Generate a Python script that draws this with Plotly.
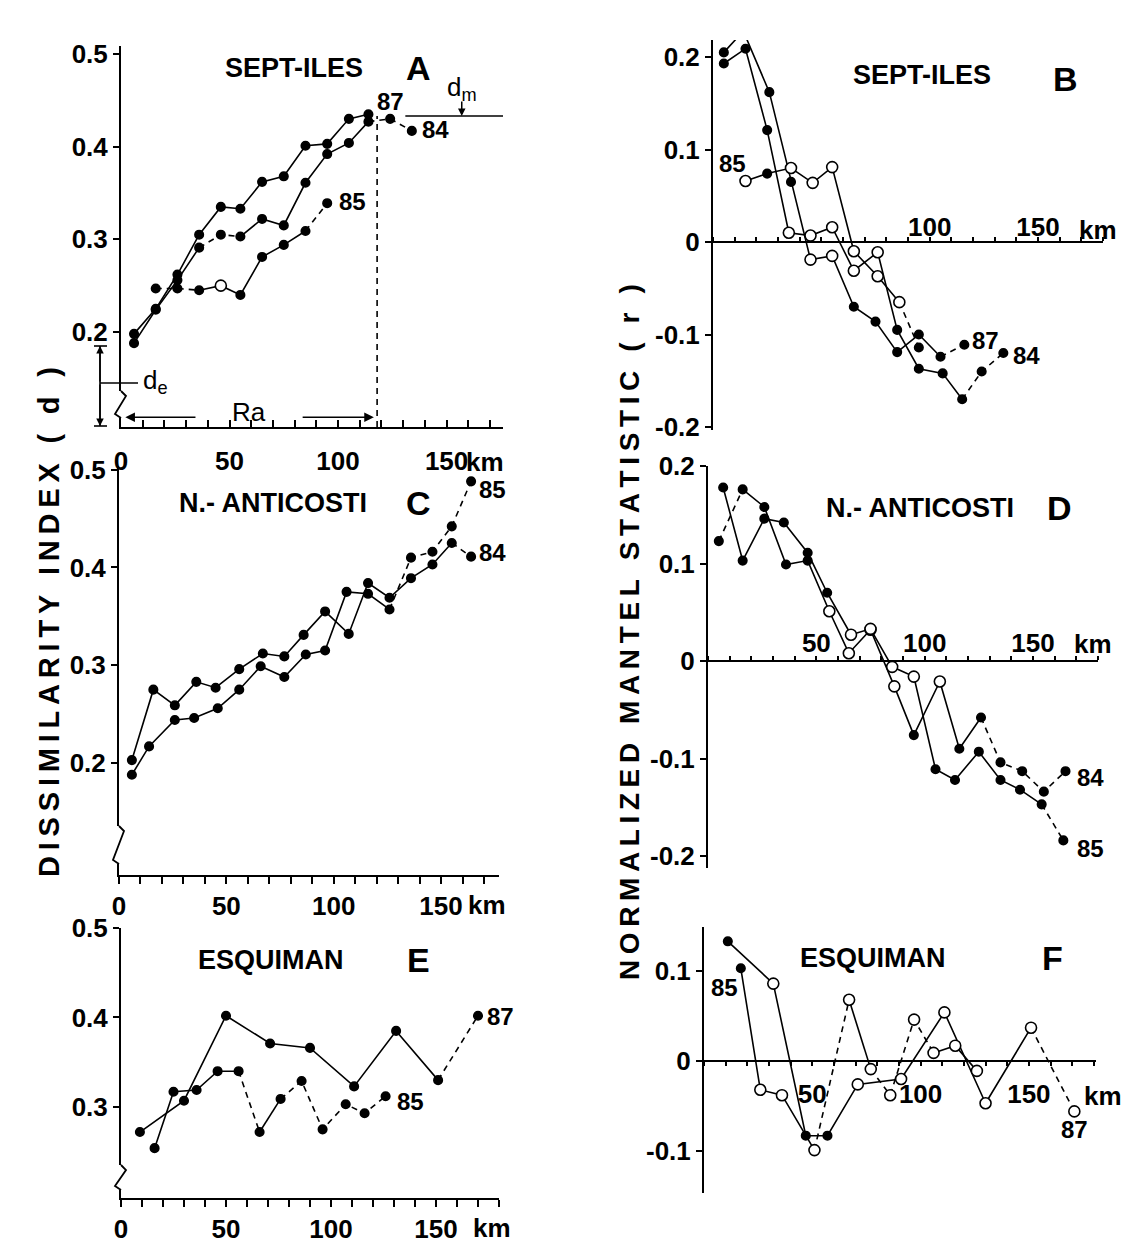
import plotly.graph_objects as go

# page body has an 8 px margin: the figure is sized to fit inside the 1131x1257 window
OFF = 8
W, H = 1131 - 2 * OFF, 1257 - 2 * OFF
FONT = "Liberation Sans, Arial, sans-serif"


def PX(px):
    return (px - OFF) / W


def PY(py):
    return 1 - (py - OFF) / H


# ---------------- DATA ----------------
# Panel A : Sept-Iles dissimilarity (km, d)
A_87_x = [6, 16, 26, 36, 46, 55, 65, 75, 85, 95, 105, 114]
A_87_y = [0.198, 0.225, 0.262, 0.305, 0.335, 0.333, 0.362, 0.368, 0.401, 0.403, 0.430, 0.435]
A_84_x = [6, 16, 26, 36, 46, 55, 65, 75, 85, 95, 105, 114, 124, 134]
A_84_y = [0.188, 0.224, 0.256, 0.291, 0.305, 0.303, 0.322, 0.315, 0.361, 0.392, 0.404, 0.427, 0.430, 0.417]
A_85_x = [16, 26, 36, 46, 55, 65, 75, 85, 95]
A_85_y = [0.247, 0.247, 0.245, 0.250, 0.240, 0.281, 0.294, 0.309, 0.339]

# Panel B : Sept-Iles Mantel r
B_87_x = [5, 14, 26, 36, 45, 55, 65, 75, 85, 95, 105, 116]
B_87_y = [0.205, 0.228, 0.162, 0.065, -0.019, -0.015, -0.070, -0.086, -0.119, -0.100, -0.124, -0.111]
B_84_x = [5, 15, 25, 35, 45, 55, 65, 76, 85, 95, 106, 115, 124, 134]
B_84_y = [0.193, 0.209, 0.121, 0.010, 0.007, 0.016, -0.031, -0.011, -0.095, -0.137, -0.142, -0.170, -0.140, -0.120]
B_85_x = [15, 25, 36, 46, 55, 65, 76, 86, 95]
B_85_y = [0.066, 0.074, 0.080, 0.064, 0.081, -0.010, -0.037, -0.065, -0.114]

# Panel C : N.-Anticosti dissimilarity
C_84_x = [6, 16, 26, 36, 45, 56, 67, 77, 86, 96, 107, 116, 126, 136, 146, 155, 164]
C_84_y = [0.203, 0.275, 0.259, 0.283, 0.277, 0.296, 0.312, 0.309, 0.331, 0.355, 0.332, 0.384, 0.369, 0.389, 0.403, 0.425, 0.411]
C_85_x = [6, 14, 26, 35, 46, 56, 66, 77, 87, 96, 106, 116, 126, 136, 146, 155, 164]
C_85_y = [0.188, 0.217, 0.244, 0.246, 0.256, 0.275, 0.299, 0.288, 0.311, 0.315, 0.375, 0.373, 0.357, 0.410, 0.416, 0.442, 0.488]

# Panel D : N.-Anticosti Mantel r
D_84_x = [5, 16, 26, 36, 46, 56, 65, 75, 86, 95, 107, 116, 126, 135, 145, 155, 165]
D_84_y = [0.123, 0.176, 0.158, 0.099, 0.103, 0.051, 0.008, 0.032, -0.026, -0.076, -0.021, -0.090, -0.058, -0.104, -0.113, -0.134, -0.113]
D_85_x = [7, 16, 26, 35, 46, 55, 66, 75, 85, 95, 105, 114, 125, 135, 144, 154, 164]
D_85_y = [0.178, 0.103, 0.146, 0.142, 0.111, 0.070, 0.027, 0.033, -0.006, -0.016, -0.111, -0.122, -0.093, -0.122, -0.132, -0.147, -0.184]

# Panel E : Esquiman dissimilarity
E_87_x = [9, 30, 50, 71, 90, 111, 131, 151, 170]
E_87_y = [0.272, 0.307, 0.402, 0.371, 0.366, 0.323, 0.385, 0.330, 0.402]
E_85_x = [16, 25, 36, 46, 56, 66, 76, 86, 96, 107, 116, 126]
E_85_y = [0.254, 0.317, 0.319, 0.340, 0.340, 0.272, 0.309, 0.329, 0.275, 0.303, 0.293, 0.312]

# Panel F : Esquiman Mantel r
F_87_x = [11, 32, 47, 57, 71, 91, 111, 130, 151, 171]
F_87_y = [0.133, 0.086, -0.083, -0.083, -0.026, -0.020, 0.054, -0.047, 0.037, -0.056]
F_85_x = [17, 26, 36, 51, 67, 77, 86, 97, 106, 116, 126]
F_85_y = [0.103, -0.032, -0.038, -0.099, 0.068, -0.009, -0.038, 0.046, 0.009, 0.017, -0.011]

# line style per segment (indices of dashed segments) and open-marker indices
SERIES = [
    # panel, x, y, dashed segments, open markers
    (1, A_87_x, A_87_y, [], []),
    (1, A_84_x, A_84_y, [3, 4, 11, 12], []),
    (1, A_85_x, A_85_y, [0, 1, 7], [3]),
    (2, B_87_x, B_87_y, [10], [4, 5]),
    (2, B_84_x, B_84_y, [11, 12], [3, 4, 5, 6, 7]),
    (2, B_85_x, B_85_y, [7], [0, 2, 3, 4, 5, 6, 7]),
    (3, C_84_x, C_84_y, [15], []),
    (3, C_85_x, C_85_y, [12, 13, 14, 15], []),
    (4, D_84_x, D_84_y, [0, 12, 13, 14, 15], [5, 6, 7, 8, 10]),
    (4, D_85_x, D_85_y, [15], [6, 7, 8, 9]),
    (5, E_87_x, E_87_y, [7], []),
    (5, E_85_x, E_85_y, [4, 6, 7, 8, 9, 10], []),
    (6, F_87_x, F_87_y, [8], [1, 4, 5, 6, 7, 8, 9]),
    (6, F_85_x, F_85_y, [3, 5, 6, 7], [1, 2, 3, 4, 5, 6, 7, 8, 9, 10]),
]

# km tick labels per panel
KM_TICKS = list(range(0, 181, 10))
A_LABELS = {0: "0", 50: "50", 100: "100", 150: "150"}
B_LABELS = {100: "100", 150: "150"}
C_LABELS = {0: "0", 50: "50", 100: "100", 150: "150"}
D_LABELS = {50: "50", 100: "100", 150: "150"}
E_LABELS = {0: "0", 50: "50", 100: "100", 150: "150"}
F_LABELS = {50: "50", 100: "100", 150: "150"}

D_TICKS = [0.2, 0.3, 0.4, 0.5]
D_TICKTEXT = ["0.2", "0.3", "0.4", "0.5"]
R_TICKS = [-0.2, -0.1, 0, 0.1, 0.2]
R_TICKTEXT = ["-0.2", "-0.1", "0", "0.1", "0.2"]
F_TICKS = [-0.1, 0, 0.1]
F_TICKTEXT = ["-0.1", "0", "0.1"]
E_TICKS = [0.3, 0.4, 0.5]
E_TICKTEXT = ["0.3", "0.4", "0.5"]

Y_TITLE_LEFT = "DISSIMILARITY INDEX ( d )"
Y_TITLE_RIGHT = "NORMALIZED MANTEL STATISTIC ( r )"

# ---------------- FIGURE ----------------
fig = go.Figure()


def ax_ids(p):
    return ("x" if p == 1 else f"x{p}"), ("y" if p == 1 else f"y{p}")


for p, xs, ys, dashed, opened in SERIES:
    xa, ya = ax_ids(p)
    n = len(xs)
    i = 0
    while i < n - 1:
        style = "dash" if i in dashed else "solid"
        j = i
        while j < n - 1 and (("dash" if j in dashed else "solid") == style):
            j += 1
        fig.add_trace(go.Scatter(x=xs[i:j + 1], y=ys[i:j + 1], mode="lines", xaxis=xa, yaxis=ya,
                                 line=dict(color="black", width=1.6, dash="6px,5px" if style == "dash" else "solid"),
                                 cliponaxis=False, hoverinfo="skip"))
        i = j
    colors = ["white" if k in opened else "black" for k in range(n)]
    sizes = [11 if k in opened else 8.5 for k in range(n)]
    fig.add_trace(go.Scatter(x=xs, y=ys, mode="markers", xaxis=xa, yaxis=ya, cliponaxis=False,
                             marker=dict(symbol="circle", color=colors, size=sizes, opacity=1,
                                         line=dict(color="black", width=1.6))))

tickfont = dict(family=FONT, size=26, color="black", weight="bold")


def km_axis(l, r, rng, labels, anchor, side="bottom", ticks="outside", ticklen=7, position=None, standoff=None):
    d = dict(domain=[PX(l), PX(r)], range=rng, showline=True, linecolor="black", linewidth=2,
             ticks=ticks, ticklen=ticklen, tickwidth=1.5, tickcolor="black",
             tickmode="array", tickvals=[v for v in KM_TICKS if v <= rng[1]],
             ticktext=[labels.get(v, "") for v in KM_TICKS if v <= rng[1]], tickangle=0,
             tickfont=tickfont, showgrid=False, zeroline=False, side=side, anchor=anchor,
             automargin=False)
    if position is not None:
        d["position"] = position
    if standoff is not None:
        d["ticklabelstandoff"] = standoff
    return d


def val_axis(bot, top, rng, tv, tt, anchor):
    return dict(domain=[PY(bot), PY(top)], range=rng, showline=True, linecolor="black", linewidth=2,
                ticks="outside", ticklen=6, tickwidth=2, tickcolor="black", tickmode="array",
                tickvals=tv, ticktext=tt, tickfont=tickfont, showgrid=False, zeroline=False,
                anchor=anchor, automargin=False)


fig.update_layout(
    width=W, height=H, margin=dict(l=0, r=0, t=0, b=0, pad=0, autoexpand=False),
    paper_bgcolor="white", plot_bgcolor="white", showlegend=False,
    # A
    xaxis=km_axis(121, 503, [0, 176], A_LABELS, "y", ticks="inside", standoff=10),
    yaxis=val_axis(427, 46, [0.0975, 0.5086], D_TICKS, D_TICKTEXT, "x"),
    # B
    xaxis2=km_axis(713, 1103, [0, 180], B_LABELS, "free", side="top", ticklen=4, position=PY(242), standoff=-9),
    yaxis2=val_axis(430, 40, [-0.2032, 0.2184], R_TICKS, R_TICKTEXT, "x2"),
    # C
    xaxis3=km_axis(119, 499, [0, 177], C_LABELS, "y3", standoff=0),
    yaxis3=val_axis(875, 466, [0.0855, 0.5037], D_TICKS, D_TICKTEXT, "x3"),
    # D
    xaxis4=km_axis(708, 1098, [0, 180], D_LABELS, "free", side="top", ticklen=4, position=PY(661), standoff=-6),
    yaxis4=val_axis(868, 466, [-0.2123, 0.2], R_TICKS, R_TICKTEXT, "x4"),
    # E
    xaxis5=km_axis(121, 499, [0, 180], E_LABELS, "y5", standoff=0),
    yaxis5=val_axis(1198, 928, [0.1983, 0.5], E_TICKS, E_TICKTEXT, "x5"),
    # F
    xaxis6=km_axis(704, 1096, [0, 181], F_LABELS, "free", side="bottom", ticklen=4, position=PY(1061), standoff=6),
    yaxis6=val_axis(1193, 927, [-0.1467, 0.1489], F_TICKS, F_TICKTEXT, "x6"),
)

ann = []


def txt(x, y, s, size=26, bold=True, xanchor="center"):
    ann.append(dict(x=PX(x), y=PY(y), xref="paper", yref="paper", text=s, showarrow=False,
                    xanchor=xanchor, yanchor="middle",
                    font=dict(family=FONT, size=size, color="black", weight="bold" if bold else "normal")))


# titles and panel letters
txt(294, 68, "SEPT-ILES", 27)
txt(418, 68, "A", 34)
txt(922, 75, "SEPT-ILES", 27)
txt(1065, 79, "B", 34)
txt(273, 503, "N.- ANTICOSTI", 27)
txt(418, 503, "C", 34)
txt(920, 508, "N.- ANTICOSTI", 27)
txt(1059, 508, "D", 34)
txt(271, 960, "ESQUIMAN", 27)
txt(418, 960, "E", 34)
txt(873, 958, "ESQUIMAN", 27)
txt(1052, 958, "F", 34)

# series labels
txt(390, 102, "87", 24)
txt(435, 130, "84", 24)
txt(352, 202, "85", 24)
txt(732, 163, "85", 24)
txt(985, 341, "87", 24)
txt(1026, 355, "84", 24)
txt(492, 489, "85", 24)
txt(492, 552, "84", 24)
txt(1090, 777, "84", 24)
txt(1090, 848, "85", 24)
txt(500, 1016, "87", 24)
txt(410, 1101, "85", 24)
txt(724, 987, "85", 24)
txt(1074, 1129, "87", 24)

# km unit labels
txt(485, 462, "km", 26)
txt(1098, 230, "km", 26)
txt(487, 905, "km", 26)
txt(1093, 644, "km", 26)
txt(492, 1228, "km", 26)
txt(1103, 1096, "km", 26)

# annotation symbols in panel A
txt(462, 88, "d<sub>m</sub>", 26, bold=False)
txt(155, 381, "d<sub>e</sub>", 26, bold=False)
txt(249, 412, "Ra", 26, bold=False)


def spaced(s):
    # mimic the wide letter spacing of the original with thin spaces
    return "\u2009".join(s)


# axis titles
ann.append(dict(x=PX(31), y=PY(622), xref="paper", yref="paper", text=spaced(Y_TITLE_LEFT),
                showarrow=False, textangle=-90,
                font=dict(family=FONT, size=29, color="black", weight="bold")))
ann.append(dict(x=PX(629), y=PY(632), xref="paper", yref="paper", text=spaced(Y_TITLE_RIGHT),
                showarrow=False, textangle=-90,
                font=dict(family=FONT, size=28, color="black", weight="bold")))

# arrows: Ra and dm, de
RA_Y = 0.108
ann.append(dict(x=2, y=RA_Y, xref="x", yref="y", ax=35, ay=RA_Y, axref="x", ayref="y", text="",
                showarrow=True, arrowhead=2, arrowsize=1.2, arrowwidth=1.6, arrowcolor="black"))
ann.append(dict(x=116.5, y=RA_Y, xref="x", yref="y", ax=83, ay=RA_Y, axref="x", ayref="y", text="",
                showarrow=True, arrowhead=2, arrowsize=1.2, arrowwidth=1.6, arrowcolor="black"))
DM = 0.433
ann.append(dict(x=157, y=DM, xref="x", yref="y", ax=0, ay=-16, text="",
                showarrow=True, arrowhead=2, arrowsize=1, arrowwidth=1.5, arrowcolor="black"))
ann.append(dict(x=PX(100), y=PY(346), xref="paper", yref="paper", ax=0, ay=37, text="",
                showarrow=True, arrowhead=2, arrowsize=1, arrowwidth=1.5, arrowcolor="black"))
ann.append(dict(x=PX(100), y=PY(426), xref="paper", yref="paper", ax=0, ay=-43, text="",
                showarrow=True, arrowhead=2, arrowsize=1, arrowwidth=1.5, arrowcolor="black"))

fig.update_layout(annotations=ann)

shapes = []
# dashed Ra limit and dm line
shapes.append(dict(type="line", xref="x", yref="y", x0=118, x1=118, y0=0.0975, y1=DM,
                   line=dict(color="black", width=1.6, dash="6px,5px")))
shapes.append(dict(type="line", xref="x", yref="y", x0=131, x1=177, y0=DM, y1=DM,
                   line=dict(color="black", width=1.6)))
# de dimension
for a, b, c, d in [(100, 346, 100, 426), (94, 346, 107, 346), (94, 426, 107, 426), (100, 383, 138, 383)]:
    shapes.append(dict(type="line", xref="paper", yref="paper", x0=PX(a), y0=PY(b), x1=PX(c), y1=PY(d),
                       line=dict(color="black", width=1.6)))


def brk(x, y1, y2):
    # white mask over axis then zigzag
    shapes.append(dict(type="rect", xref="paper", yref="paper", x0=PX(x - 3), x1=PX(x + 3), y0=PY(y2), y1=PY(y1),
                       fillcolor="white", line=dict(width=0)))
    path = "M {} {} L {} {} L {} {} L {} {}".format(
        PX(x), PY(y1), PX(x + 5), PY(y1 + 5), PX(x - 6), PY(y2 - 4), PX(x), PY(y2))
    shapes.append(dict(type="path", xref="paper", yref="paper", path=path,
                       line=dict(color="black", width=1.8)))


brk(121, 391, 418)
brk(119, 826, 864)
brk(121, 1165, 1190)

fig.update_layout(shapes=shapes)

fig.write_html("out.html")
